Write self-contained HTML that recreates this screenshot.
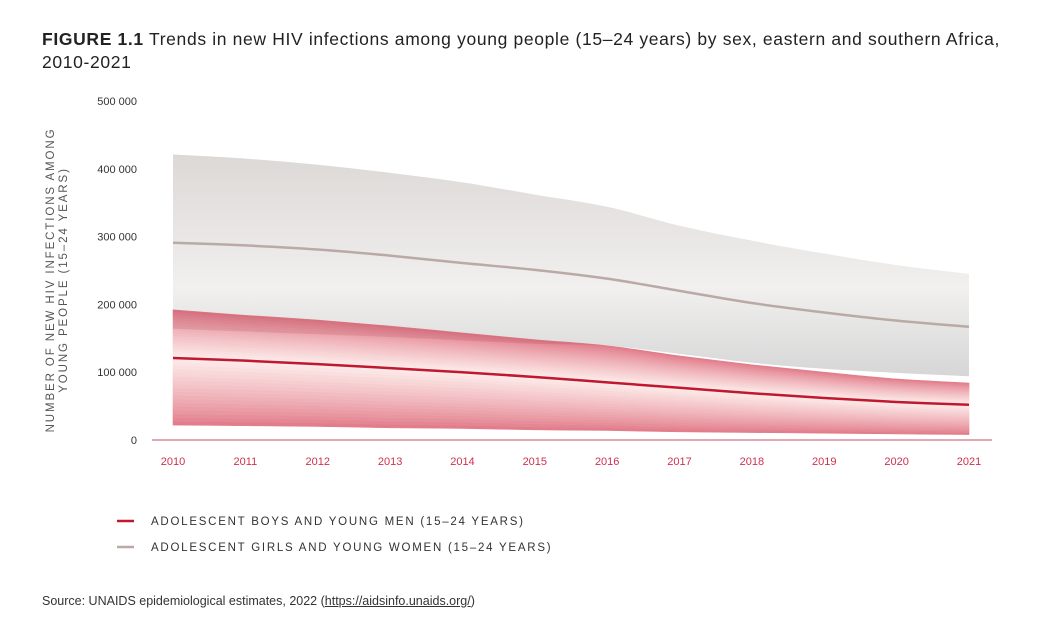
<!DOCTYPE html>
<html><head><meta charset="utf-8"><style>
body{margin:0;background:#fff;width:1062px;height:633px;overflow:hidden;font-family:"Liberation Sans",sans-serif;position:relative}
.t{position:absolute;left:42px;top:28px;font-size:17.5px;color:#222;line-height:23px;width:1000px;letter-spacing:0.65px}
.src{position:absolute;left:42px;top:594px;font-size:12.5px;color:#333}
svg{position:absolute;left:0;top:0}
</style></head><body>
<div class="t"><b>FIGURE 1.1</b> Trends in new HIV infections among young people (15–24 years) by sex, eastern and southern Africa, 2010-2021</div>
<svg id="c" width="1062" height="633">
<defs>
<linearGradient id="gg" x1="0" y1="0" x2="0" y2="1"><stop offset="0" stop-color="#dcd8d6"/><stop offset="0.6" stop-color="#f1f0ef"/><stop offset="1" stop-color="#d6d6d6"/></linearGradient>
</defs>
</svg>
<div class="src">Source: UNAIDS epidemiological estimates, 2022 (<u>https://aidsinfo.unaids.org/</u>)</div>
<script>
const years=[2010,2011,2012,2013,2014,2015,2016,2017,2018,2019,2020,2021];
const womenUpper=[421,415,406,394,380,362,344,316,294,275,258,245];
const womenMid=[291,287,281,272,261,251,238,220,202,188,176,167];
const womenLower=[164,160,156,152,147,142,139,127,114,105,99,94];
const menUpper=[192,184,177,168,158,148,139,124,111,100,90,84];
const menMid=[121,117,112,106,100,93,85,77,69,62,56,52];
const menLower=[22,21,20,18,17,15,14,12,11,10,9,8];
const yTicks=[0,100,200,300,400,500];
const yTickLabels=["0","100 000","200 000","300 000","400 000","500 000"];
const svg=document.getElementById('c');const NS='http://www.w3.org/2000/svg';
const x=i=>173+i*(969-173)/(years.length-1);
const y=v=>440-v*0.678;
function mk(t,a){const e=document.createElementNS(NS,t);for(const k in a)e.setAttribute(k,a[k]);svg.appendChild(e);return e;}
function pts(arr){return arr.map((v,i)=>[x(i),y(v)]);}
function curve(p,move){let d=move?`M${p[0][0]},${p[0][1]}`:`L${p[0][0]},${p[0][1]}`;
for(let i=0;i<p.length-1;i++){const p0=p[i-1]||p[i],p1=p[i],p2=p[i+1],p3=p[i+2]||p2;
d+=`C${p1[0]+(p2[0]-p0[0])/6},${p1[1]+(p2[1]-p0[1])/6} ${p2[0]-(p3[0]-p1[0])/6},${p2[1]-(p3[1]-p1[1])/6} ${p2[0]},${p2[1]}`;}return d;}
function band(up,lo,fill,name){const d=curve(pts(up),true)+curve(pts(lo).reverse(),false)+'Z';
const e=mk('path',{d:d,fill:fill,stroke:fill==='url(#gg)'?'none':fill,'stroke-width':0.6});return e;}
band(womenUpper,womenLower,'url(#gg)','women-uncertainty-band');
const mixArr=(a,b,t)=>a.map((v,i)=>v*(1-t)+b[i]*t);
function col(t){
 const e=[224,118,133],m=[253,236,234];const f=Math.pow(t,0.8);
 return `rgb(${e.map((c,i)=>Math.round(c+(m[i]-c)*f)).join(',')})`;}
const N=18;
for(let k=0;k<N;k++){
 band(mixArr(menUpper,menMid,k/N),mixArr(menUpper,menMid,(k+1)/N),col((k+0.5)/N),'men-band-upper-layer');
 band(mixArr(menLower,menMid,k/N),mixArr(menLower,menMid,(k+1)/N),col((k+0.5)/N),'men-band-lower-layer');
}
const overlapLow=menUpper.map((v,i)=>Math.min(v,womenLower[i]));
const ov=band(menUpper,overlapLow,'rgba(150,40,60,0.14)','band-overlap');ov.setAttribute('stroke','none');
let l=mk('path',{d:curve(pts(womenMid),true),fill:'none',stroke:'#b9aaa6','stroke-width':2.5});

l=mk('path',{d:curve(pts(menMid),true),fill:'none',stroke:'#c0182f','stroke-width':2.5});

const ax=mk('line',{x1:152,x2:992,y1:440,y2:440,stroke:'#c9526a','stroke-width':1});

yTicks.forEach((v,i)=>{const t=mk('text',{x:137,y:y(v)+4,'text-anchor':'end','font-size':11,fill:'#333','font-family':'Liberation Sans'});t.textContent=yTickLabels[i];
});
years.forEach((yr,i)=>{const t=mk('text',{x:x(i),y:465,'text-anchor':'middle','font-size':11,fill:'#d0304e','font-family':'Liberation Sans'});t.textContent=yr;
});
const yt=mk('text',{transform:'translate(58,280) rotate(-90)','text-anchor':'middle','font-size':11.5,fill:'#555','letter-spacing':'1.9','font-family':'Liberation Sans'});

yt.innerHTML='<tspan x="0" dy="-4">NUMBER OF NEW HIV INFECTIONS AMONG</tspan><tspan x="0" dy="13">YOUNG PEOPLE (15–24 YEARS)</tspan>';
[['#c0182f','ADOLESCENT BOYS AND YOUNG MEN (15–24 YEARS)',521],['#b9aaa6','ADOLESCENT GIRLS AND YOUNG WOMEN (15–24 YEARS)',547]].forEach(([c,s,yy])=>{
const g=mk('g',{});
const ln=document.createElementNS(NS,'line');ln.setAttribute('x1',117);ln.setAttribute('x2',134);ln.setAttribute('y1',yy);ln.setAttribute('y2',yy);ln.setAttribute('stroke',c);ln.setAttribute('stroke-width',2.5);g.appendChild(ln);
const t=document.createElementNS(NS,'text');t.setAttribute('x',151);t.setAttribute('y',yy+4);t.setAttribute('font-size',11.5);t.setAttribute('fill','#333');t.setAttribute('letter-spacing','1.75');t.setAttribute('font-family','Liberation Sans');t.textContent=s;g.appendChild(t);});
</script>
</body></html>
